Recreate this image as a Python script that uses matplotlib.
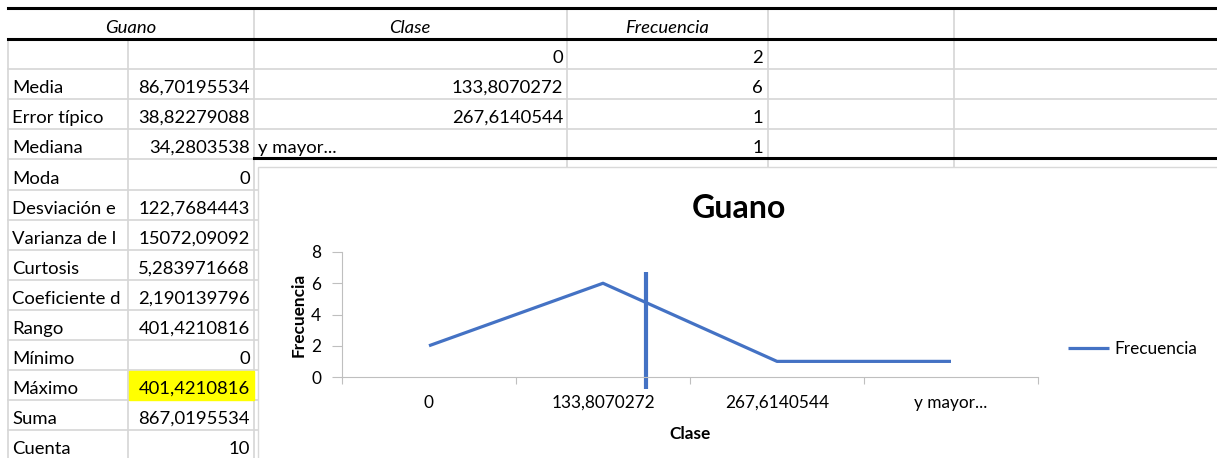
import matplotlib.pyplot as plt
from matplotlib.patches import Rectangle
from matplotlib.transforms import Bbox

plt.rcParams['font.family'] = ['Lato', 'DejaVu Sans']

# datos de la hoja (etiquetas tal como se ven, cortadas por la celda)
stat_labels = ['Media', 'Error típico', 'Mediana', 'Moda', 'Desviación e',
               'Varianza de l', 'Curtosis', 'Coeficiente d',
               'Rango', 'Mínimo', 'Máximo', 'Suma', 'Cuenta']
stat_values = ['86,70195534', '38,82279088', '34,2803538', '0', '122,7684443',
               '15072,09092', '5,283971668', '2,190139796', '401,4210816', '0',
               '401,4210816', '867,0195534', '10']
classes = ['0', '133,8070272', '267,6140544', 'y mayor...']
frequencies = [2, 6, 1, 1]

W, H = 1217, 458
fig = plt.figure(figsize=(W / 100, H / 100), dpi=100)

# fondo con coordenadas en pixeles
bg = fig.add_axes([0, 0, 1, 1])
bg.set_xlim(0, W)
bg.set_ylim(H, 0)
bg.axis('off')

grid = '#d6d6d6'
cols = [8, 128, 254, 567, 768, 954]
rows = [8, 39, 69, 99, 129, 159, 190, 220, 250, 280, 310, 340, 370, 400, 430, 460]
fs = 13.3

# lineas grises de la cuadricula
for y in rows[2:5]:
    bg.plot([8, W], [y, y], color=grid, lw=1.2)
for y in rows[5:]:
    bg.plot([8, 258], [y, y], color=grid, lw=1.2)
bg.plot([8, 8], [39, H], color=grid, lw=1.2)
bg.plot([128, 128], [39, H], color=grid, lw=1.2)
bg.plot([254, 254], [8, H], color=grid, lw=1.2)
for x in cols[3:]:
    bg.plot([x, x], [8, 167], color=grid, lw=1.2)

# celda resaltada
bg.add_patch(Rectangle((129, 371), 125, 29, color='#ffff00', zorder=3))

# bordes negros de las tablas
bg.plot([8, W], [8, 8], color='black', lw=2.2, zorder=4)
bg.plot([8, W], [39, 39], color='black', lw=2.2, zorder=4)
bg.plot([254, W], [158, 158], color='black', lw=2.2, zorder=4)

# encabezados
bg.text(131, 33, 'Guano', ha='center', va='baseline', fontsize=fs, style='italic')
bg.text(410, 33, 'Clase', ha='center', va='baseline', fontsize=fs, style='italic')
bg.text(667, 33, 'Frecuencia', ha='center', va='baseline', fontsize=fs, style='italic')

# recorte de la columna A (pixeles de pantalla, origen abajo)
clip_a = Bbox([[8, 0], [127, H]])

# estadisticas descriptivas
for i, (lab, val) in enumerate(zip(stat_labels, stat_values)):
    yb = rows[i + 3] - 6
    t = bg.text(12, yb, lab, ha='left', va='baseline', fontsize=fs, zorder=5)
    t.set_clip_box(clip_a)
    t.set_clip_on(True)
    bg.text(250, yb, val, ha='right', va='baseline', fontsize=fs, zorder=5)

# tabla de frecuencias
for i, (c, f) in enumerate(zip(classes, frequencies)):
    yb = rows[i + 2] - 6
    if i < 3:
        bg.text(563, yb, c, ha='right', va='baseline', fontsize=fs)
    else:
        bg.text(258, yb, c, ha='left', va='baseline', fontsize=fs)
    bg.text(763, yb, str(f), ha='right', va='baseline', fontsize=fs)

# area del grafico
bg.add_patch(Rectangle((258, 167), W, H, facecolor='white', edgecolor='#d9d9d9',
                       lw=1, zorder=6))
bg.text(739, 218, 'Guano', ha='center', va='baseline', fontsize=23,
        fontweight='bold', zorder=7)

ax = fig.add_axes([342 / W, 1 - 377 / H, (1038 - 342) / W, (377 - 252) / H])
ax.set_facecolor('none')
blue = '#4472c4'
ax.plot(range(len(classes)), frequencies, color=blue, lw=2.3,
        solid_capstyle='butt', label='Frecuencia')

# linea vertical dibujada a mano sobre el grafico
ax.plot([1.247, 1.247], [-0.77, 6.72], color=blue, lw=3, clip_on=False,
        solid_capstyle='butt')

ax.set_xlim(-0.5, len(classes) - 0.5)
ax.set_ylim(0, 8)
ax.set_yticks([0, 2, 4, 6, 8])
ax.set_xticks([i - 0.5 for i in range(len(classes) + 1)])
ax.set_xticklabels([])
ax.set_xticks(range(len(classes)), classes, minor=True)
ax.tick_params(axis='x', which='major', length=5, color='#bfbfbf', width=0.8)
ax.tick_params(axis='x', which='minor', length=0, pad=13, labelsize=12.4)
ax.tick_params(axis='y', length=7, color='#bfbfbf', width=0.8, pad=8, labelsize=12.4)
for s in ['top', 'right']:
    ax.spines[s].set_visible(False)
for s in ['left', 'bottom']:
    ax.spines[s].set_color('#bfbfbf')
    ax.spines[s].set_linewidth(0.8)

ax.set_xlabel('Clase', fontsize=12.4, fontweight='bold')
ax.xaxis.set_label_coords(690, 426, transform=bg.transData)
ax.set_ylabel('Frecuencia', fontsize=12.4, fontweight='bold')
ax.yaxis.set_label_coords(307, 315, transform=bg.transData)

ax.legend(loc='center left', bbox_to_anchor=(1068, 349), bbox_transform=bg.transData,
          frameon=False, fontsize=12.4, borderpad=0, borderaxespad=0,
          handlelength=2.4, handletextpad=0.3)

fig.savefig('out.png', dpi=100)
